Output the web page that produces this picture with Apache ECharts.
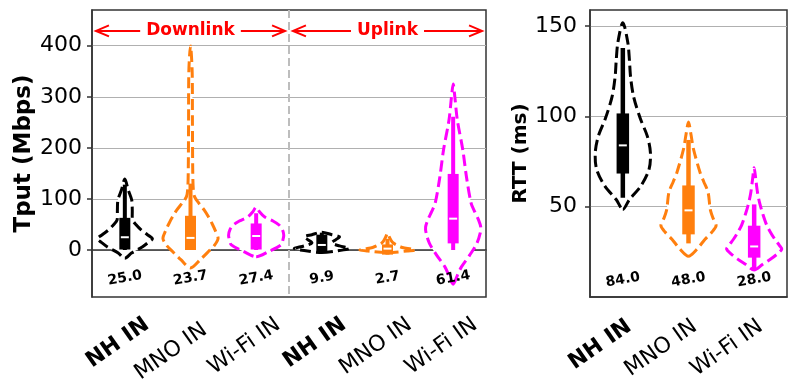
<!DOCTYPE html>
<html>
<head>
<meta charset="utf-8">
<script src="https://cdn.jsdelivr.net/npm/echarts@6/dist/echarts.min.js"></script>
<style>
html, body { margin: 0; padding: 0; background: #fff; }
#main { width: 797px; height: 385px; }
</style>
</head>
<body>
<div id="main"></div>
<script>
var tputCats = ['NH IN', 'MNO IN', 'Wi-Fi IN', 'NH IN', 'MNO IN', 'Wi-Fi IN'];
var rttCats = ['NH IN', 'MNO IN', 'Wi-Fi IN'];
var tputTicks = [0, 100, 200, 300, 400];
var rttTicks = [50, 100, 150];

// box stats
var tputMedian = [25.0, 23.7, 27.4, 9.9, 2.7, 61.4];
var tputQ1 = [1, 0, 1, -3, -9, 13];
var tputQ3 = [63, 67, 52, 30, 11, 149];
var tputLow = [0, 0, 0, -3, -9, 0];
var tputHigh = [128, 130, 72, 34, 22, 261];

var rttMedian = [84.0, 48.0, 28.0];
var rttQ1 = [68.4, 34.7, 21.8];
var rttQ3 = [101.7, 61.8, 39.5];
var rttLow = [55, 29.7, 15.3];
var rttHigh = [138, 87, 51.3];

// violin outlines: [value, relative half width]
var tputShape = [
    [[-16, 0], [-6, 0.24], [6, 0.63], [15, 0.85], [22, 1], [30, 0.82], [39, 0.6], [50, 0.4], [59, 0.28], [78, 0.27], [98, 0.25], [118, 0.12], [139, 0]],
    [[-35, 0], [-19, 0.35], [-3, 0.65], [10, 0.88], [23, 1], [38, 0.9], [52, 0.78], [65, 0.65], [78, 0.5], [92, 0.3], [104, 0.15], [120, 0.1], [160, 0.08], [250, 0.07], [350, 0.06], [400, 0]],
    [[-13, 0], [-3, 0.45], [10, 0.9], [20, 0.97], [29, 1], [40, 0.95], [49, 0.83], [57, 0.6], [65, 0.3], [75, 0.12], [84, 0]],
    [[-5, 0], [-1, 0.64], [3, 1], [8, 0.64], [14, 0.36], [20, 0.5], [26, 0.64], [30, 0.36], [35, 0]],
    [[-5, 0], [-2, 0.71], [0, 1], [2, 0.86], [5, 0.54], [10, 0.32], [15, 0.18], [25, 0.07], [33, 0]],
    [[-67, 0], [-50, 0.15], [-33, 0.3], [-10, 0.6], [13, 0.86], [33, 0.98], [45, 1], [59, 0.92], [75, 0.78], [92, 0.65], [144, 0.48], [196, 0.35], [255, 0.15], [300, 0.06], [325, 0]]
];
var rttShape = [
    [[48.5, 0], [54, 0.24], [61.4, 0.65], [70.7, 0.95], [80, 1], [89, 0.89], [99, 0.63], [111, 0.39], [122, 0.28], [131, 0.24], [141, 0.18], [152, 0]],
    [[22.6, 0], [26.4, 0.3], [32, 0.6], [36, 0.85], [39.5, 1], [44, 0.88], [48.5, 0.79], [58, 0.71], [64, 0.55], [69, 0.42], [82, 0.18], [90, 0.09], [97, 0]],
    [[14.9, 0], [18, 0.3], [21, 0.6], [24, 0.85], [26.5, 1], [28.5, 0.92], [32, 0.75], [35.6, 0.6], [40, 0.45], [45.7, 0.32], [52, 0.2], [58, 0.12], [65, 0.06], [71.6, 0]]
];

var groupColors = ['#000000', '#ff7f0e', '#ff00ff'];
var font = 'DejaVu Sans';

// Downlink / Uplink annotation
var annoTexts = ['Downlink', 'Uplink'];
var annoSpans = [[-0.44, 2.44], [2.56, 5.44]];
var annoCenters = [1, 4];
var annoY = 429;
var dividerX = 2.5;

function violinRenderer(shapes, q1, q3, lo, hi, med, labelY, boxW, whiskW) {
    return function (params, api) {
        var i = params.dataIndex;
        var color = groupColors[i % 3];
        var cx = api.coord([i, 0])[0];
        var hw = api.size([1, 0])[0] * 0.42;
        var y = function (v) { return api.coord([i, v])[1]; };
        var pts = shapes[i];
        var poly = [];
        for (var k = 0; k < pts.length; k++) {
            poly.push([cx + pts[k][1] * hw, y(pts[k][0])]);
        }
        for (var k2 = pts.length - 2; k2 > 0; k2--) {
            poly.push([cx - pts[k2][1] * hw, y(pts[k2][0])]);
        }
        var ym = y(med[i]);
        return {
            type: 'group',
            children: [
                { type: 'polygon', shape: { points: poly, smooth: 0.3 },
                  style: { fill: '#fff', stroke: color, lineWidth: 3, lineDash: [11, 5] } },
                { type: 'rect', shape: { x: cx - whiskW / 2, y: y(hi[i]), width: whiskW, height: y(lo[i]) - y(hi[i]) },
                  style: { fill: color } },
                { type: 'rect', shape: { x: cx - boxW / 2, y: y(q3[i]), width: boxW, height: y(q1[i]) - y(q3[i]) },
                  style: { fill: color } },
                { type: 'line', shape: { x1: cx - 4, y1: ym, x2: cx + 4, y2: ym },
                  style: { stroke: '#fff', lineWidth: 2 } },
                { type: 'text', x: cx, y: y(labelY), rotation: 10 * Math.PI / 180,
                  style: { text: med[i].toFixed(1), x: 0, y: 0, align: 'center', verticalAlign: 'middle',
                           font: 'bold 14px "DejaVu Sans"', fill: '#000' } }
            ]
        };
    };
}

function annoRenderer(params, api) {
    var rect = params.coordSys;
    var c0 = api.coord([0, annoY]);
    var band = api.size([1, 0])[0];
    var xAt = function (u) { return c0[0] + u * band; };
    var ay = c0[1];
    var kids = [{
        type: 'line',
        shape: { x1: xAt(dividerX), y1: rect.y, x2: xAt(dividerX), y2: rect.y + rect.height },
        style: { stroke: '#bdbdbd', lineWidth: 2, lineDash: [8, 4] }
    }];
    var red = '#ff0000';
    for (var j = 0; j < annoTexts.length; j++) {
        var xa = xAt(annoSpans[j][0]), xb = xAt(annoSpans[j][1]);
        kids.push({ type: 'line', shape: { x1: xa, y1: ay, x2: xb, y2: ay }, style: { stroke: red, lineWidth: 2 } });
        kids.push({ type: 'polyline', shape: { points: [[xa + 13, ay - 5.5], [xa, ay], [xa + 13, ay + 5.5]] },
                    style: { stroke: red, lineWidth: 2, fill: null } });
        kids.push({ type: 'polyline', shape: { points: [[xb - 13, ay - 5.5], [xb, ay], [xb - 13, ay + 5.5]] },
                    style: { stroke: red, lineWidth: 2, fill: null } });
        kids.push({ type: 'text', x: xAt(annoCenters[j]), y: ay,
                    style: { text: annoTexts[j], x: 0, y: 0, align: 'center', verticalAlign: 'middle',
                             font: 'bold 17px "DejaVu Sans"', fill: red, backgroundColor: '#fff', padding: [5, 6, 5, 6] } });
    }
    return { type: 'group', children: kids };
}

function catData(cats, special) {
    return cats.map(function (c, i) {
        var ts = {};
        if (c === 'NH IN') ts.fontWeight = 'bold';
        if (special && special[i]) ts.padding = special[i];
        return { value: c, textStyle: ts };
    });
}

function xAxisCfg(grid, cats, margin, pad, special) {
    return {
        type: 'category', gridIndex: grid, data: catData(cats, special),
        axisLine: { lineStyle: { color: '#333', width: 1.5 } },
        axisTick: { alignWithLabel: true, length: 5, lineStyle: { color: '#333', width: 1.5 } },
        axisLabel: { interval: 0, rotate: 35, margin: margin, fontSize: 22, color: '#000', fontFamily: font, padding: pad },
        splitLine: { show: false }
    };
}

function yAxisCfg(grid, min, max, ticks, labelMargin, name, nameSize, nameGap) {
    return {
        type: 'value', gridIndex: grid, min: min, max: max,
        axisLine: { show: true, lineStyle: { color: '#333', width: 1.5 } },
        axisTick: { show: true, length: 5, customValues: ticks, lineStyle: { color: '#333', width: 1.5 } },
        axisLabel: { customValues: ticks, fontSize: 22, margin: labelMargin, color: '#000', fontFamily: font },
        splitLine: { show: true, lineStyle: { color: '#b0b0b0', width: 1.2 } },
        name: name, nameLocation: 'middle', nameGap: nameGap,
        nameTextStyle: { fontSize: nameSize, fontWeight: 'bold', color: '#000', fontFamily: font }
    };
}

var chart = echarts.init(document.getElementById('main'));
chart.setOption({
    animation: false,
    grid: [
        { left: 92, top: 10, width: 394, height: 287, show: true, borderColor: '#333', borderWidth: 1.5, outerBoundsMode: 'none' },
        { left: 590, top: 10, width: 197, height: 287, show: true, borderColor: '#333', borderWidth: 1.5, outerBoundsMode: 'none' }
    ],
    xAxis: [
        xAxisCfg(0, tputCats, 41, [0, -27, 8, 0], { 1: [0, -17.5, 22, 0] }),
        xAxisCfg(1, rttCats, 32, [0, -8, 10, 0])
    ],
    yAxis: [
        yAxisCfg(0, -92, 470, tputTicks, 10, 'Tput (Mbps)', 23, 56),
        yAxisCfg(1, 0, 159, rttTicks, 13, 'RTT (ms)', 20, 58)
    ],
    series: [
        { type: 'custom', xAxisIndex: 0, yAxisIndex: 0, clip: false,
          data: tputMedian.map(function (m, i) { return [i, m]; }),
          renderItem: violinRenderer(tputShape, tputQ1, tputQ3, tputLow, tputHigh, tputMedian, -55, 11, 4) },
        { type: 'custom', xAxisIndex: 1, yAxisIndex: 1, clip: false,
          data: rttMedian.map(function (m, i) { return [i, m]; }),
          renderItem: violinRenderer(rttShape, rttQ1, rttQ3, rttLow, rttHigh, rttMedian, 9.5, 12.5, 4.5) },
        { type: 'custom', xAxisIndex: 0, yAxisIndex: 0, data: [[0, annoY]], renderItem: annoRenderer, z: 3 }
    ]
});
</script>
</body>
</html>
